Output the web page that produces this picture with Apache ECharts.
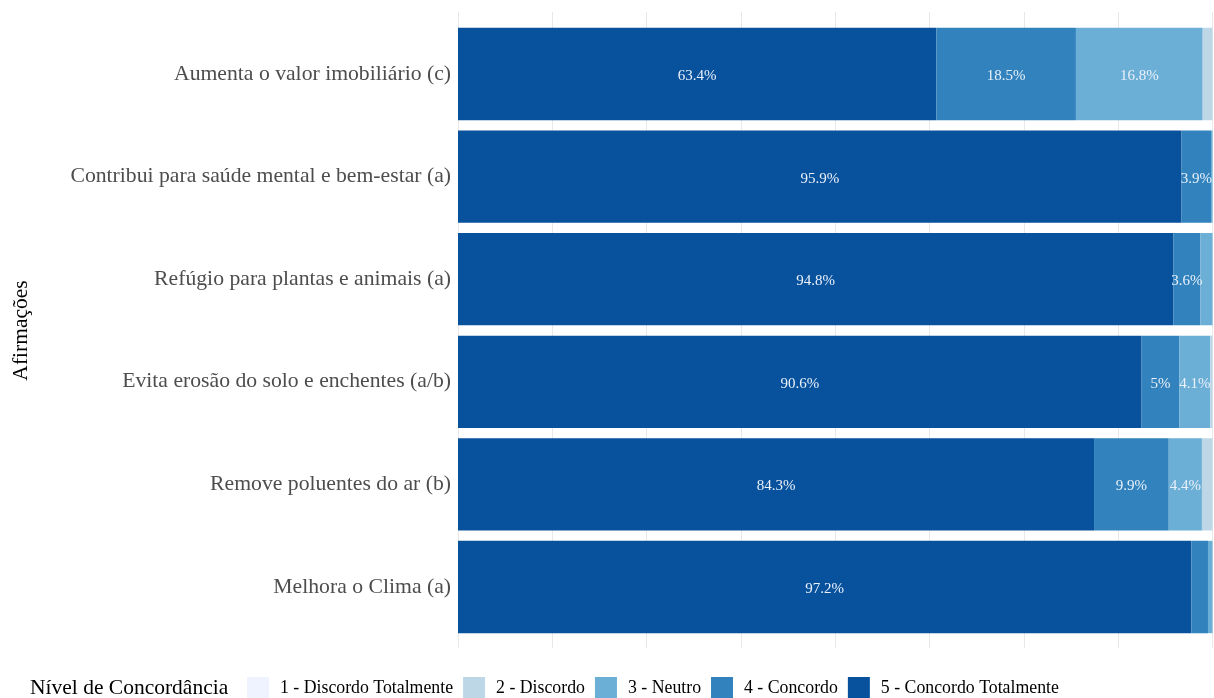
<!DOCTYPE html>
<html>
<head>
<meta charset="utf-8">
<script src="https://cdn.jsdelivr.net/npm/echarts@6/dist/echarts.min.js"></script>
<style>
  html, body { margin: 0; padding: 0; background: #fff; }
  #chart { width: 1214px; height: 698px; }
</style>
</head>
<body>
<div id="chart"></div>
<script>
// categorias (de baixo para cima)
var categories = [
  'Melhora o Clima (a)',
  'Remove poluentes do ar (b)',
  'Evita erosão do solo e enchentes (a/b)',
  'Refúgio para plantas e animais (a)',
  'Contribui para saúde mental e bem-estar (a)',
  'Aumenta o valor imobiliário (c)'
];
var levelNames = ['1 - Discordo Totalmente', '2 - Discordo', '3 - Neutro', '4 - Concordo', '5 - Concordo Totalmente'];
var levelColors = ['#eff3ff', '#bdd7e7', '#6baed6', '#3182bd', '#08519c'];
// percentuais por nível
var level5 = [97.2, 84.3, 90.6, 94.8, 95.9, 63.4];
var level4 = [2.2, 9.9, 5.0, 3.6, 3.9, 18.5];
var level3 = [0.6, 4.4, 4.1, 1.6, 0.2, 16.8];
var level2 = [0, 1.4, 0.3, 0, 0, 1.3];
var level1 = [0, 0, 0, 0, 0, 0];

var serif = 'Liberation Serif';
var chart = echarts.init(document.getElementById('chart'));

function mkSeries(idx, data) {
  return {
    name: levelNames[idx],
    type: 'bar',
    stack: 'total',
    xAxisIndex: 1,
    yAxisIndex: 1,
    barCategoryGap: '10%',
    itemStyle: { color: levelColors[idx] },
    label: {
      show: true,
      position: 'inside',
      offset: [0, 2],
      color: '#eaf1fa',
      fontFamily: serif,
      fontSize: 15,
      formatter: function (p) { return p.value >= 3 ? p.value + '%' : ''; }
    },
    emphasis: { disabled: true },
    data: data
  };
}

chart.setOption({
  animation: false,
  textStyle: { fontFamily: serif },
  grid: [
    { left: 458, width: 754.5, top: 12, height: 636, outerBoundsMode: 'none' },
    { left: 458, width: 754.5, top: 22.7, height: 615.6, outerBoundsMode: 'none' }
  ],
  xAxis: [
    {
      gridIndex: 0, type: 'value', min: 0, max: 100, interval: 12.5,
      axisLabel: { show: false }, axisLine: { show: false }, axisTick: { show: false },
      splitLine: { show: true, lineStyle: { color: '#e8e8e8', width: 1 } }
    },
    {
      gridIndex: 1, type: 'value', min: 0, max: 100,
      show: false
    }
  ],
  yAxis: [
    { gridIndex: 0, type: 'value', show: false },
    {
      gridIndex: 1, type: 'category', data: categories,
      axisLine: { show: false }, axisTick: { show: false },
      axisLabel: { color: '#4d4d4d', fontSize: 21.7, fontFamily: serif, margin: 7, padding: [6, 0, 0, 0] },
      name: 'Afirmações', nameLocation: 'middle', nameRotate: 90, nameGap: 426,
      nameTextStyle: { color: '#000', fontSize: 21.5, fontFamily: serif }
    }
  ],
  legend: {
    data: levelNames,
    left: 247, top: 677, padding: 0,
    itemWidth: 22, itemHeight: 22, itemGap: 10,
    icon: 'rect',
    textStyle: { fontFamily: serif, fontSize: 17.8, color: '#000', padding: [0, 0, 0, 6] }
  },
  graphic: [{
    type: 'text', left: 30, top: 677,
    style: { text: 'Nível de Concordância', font: '21.5px "Liberation Serif"', fill: '#000' }
  }],
  series: [
    mkSeries(4, level5),
    mkSeries(3, level4),
    mkSeries(2, level3),
    mkSeries(1, level2),
    mkSeries(0, level1)
  ]
});
</script>
</body>
</html>
